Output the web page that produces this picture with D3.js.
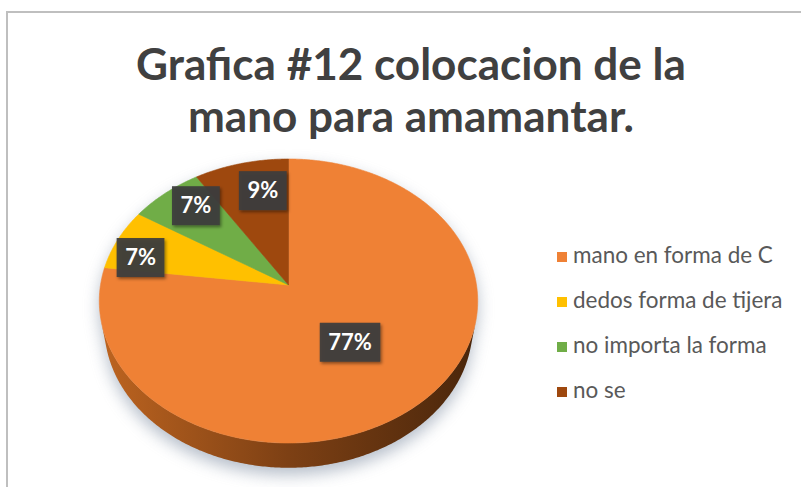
<!DOCTYPE html>
<html>
<head>
<meta charset="utf-8">
<script src="https://cdn.jsdelivr.net/npm/d3@7"></script>
<style>
  body { margin: 0; background: #fff; }
  svg { display: block; }
</style>
</head>
<body>
<svg id="chart" width="801" height="487"></svg>
<script>
// ---- data ----
const categories = ["mano en forma de C", "dedos forma de tijera", "no importa la forma", "no se"];
const percents = [77, 7, 7, 9];
const titleLines = ["Grafica #12 colocacion de la", "mano para amamantar."];
const sliceColors = ["#EF8135", "#FFC000", "#70AD47", "#9E480E"];

// ---- layout ----
const W = 801, H = 487;
const svg = d3.select("#chart");
const defs = svg.append("defs");

// simple perspective camera looking down on a unit-radius disc
const cam = { cx: 288.5, cy: 285, D: 5.91, f: 1111, sinA: 0.7458, thick: 0.215 };
cam.cosA = Math.sqrt(1 - cam.sinA * cam.sinA);

function project(theta, r, z) {
  const X = r * Math.sin(theta), Y = r * Math.cos(theta);
  const depth = cam.D + Y * cam.cosA - z * cam.sinA;
  return [cam.cx + X * cam.f / depth, cam.cy - (Y * cam.sinA + z * cam.cosA) * cam.f / depth];
}
function rim(a0, a1, z) {
  const n = Math.max(2, Math.ceil(Math.abs(a1 - a0) / 0.01));
  return d3.range(n + 1).map(i => project(a0 + (a1 - a0) * i / n, 1, z));
}
const line = d3.line();

// chart frame
svg.append("rect").attr("width", W).attr("height", H).attr("fill", "#fff");
svg.append("path")
  .attr("d", `M7,${H} L7,12 L${W},12`)
  .attr("fill", "none").attr("stroke", "#bfbfbf").attr("stroke-width", 2);

// title
const title = svg.append("g").attr("fill", "#404040")
  .attr("font-family", "Lato, 'Open Sans', sans-serif").attr("font-weight", 700)
  .attr("text-anchor", "middle");
const titleSel = title.selectAll("text").data(titleLines).join("text")
  .attr("x", 411).attr("y", (d, i) => 80 + i * 52)
  .attr("font-size", 40).text(d => d);
{
  const w = titleSel.nodes()[0].getComputedTextLength();
  titleSel.attr("font-size", 40 * 550 / w);
}

// pie angles
const pie = d3.pie().sort(null).value(d => d);
const arcs = pie(percents);

// silhouette angles of the visible side wall
const thS = Math.acos(-1 / (cam.D * cam.cosA));
const sidePts = rim(thS, 2 * Math.PI - thS, 0).concat(rim(2 * Math.PI - thS, thS, -cam.thick));
const topPts = rim(0, 2 * Math.PI, 0);

// soft shadow under the disc
const sh = defs.append("filter").attr("id", "shadow")
  .attr("x", "-30%").attr("y", "-30%").attr("width", "160%").attr("height", "160%");
sh.append("feGaussianBlur").attr("stdDeviation", 8);
const shadow = svg.append("g").attr("filter", "url(#shadow)").attr("opacity", 0.6)
  .attr("transform", "translate(0,7)");
shadow.append("path").attr("d", line(sidePts) + "Z").attr("fill", "#8593a6");
shadow.append("path").attr("d", line(topPts) + "Z").attr("fill", "#8593a6");

// side wall
const sideGrad = defs.append("linearGradient").attr("id", "sideGrad")
  .attr("gradientUnits", "userSpaceOnUse")
  .attr("x1", project(3 * Math.PI / 2, 1, 0)[0]).attr("x2", project(Math.PI / 2, 1, 0)[0])
  .attr("y1", 0).attr("y2", 0);
sideGrad.append("stop").attr("offset", 0).attr("stop-color", "#bd6420");
sideGrad.append("stop").attr("offset", 0.5).attr("stop-color", "#7d4014");
sideGrad.append("stop").attr("offset", 1).attr("stop-color", "#4a260b");
svg.append("path").attr("d", line(sidePts) + "Z").attr("fill", "url(#sideGrad)");

// top face slices
const center = project(0, 0, 0);
svg.append("g").selectAll("path").data(arcs).join("path")
  .attr("d", d => line([center].concat(rim(d.startAngle, d.endAngle, 0))) + "Z")
  .attr("fill", (d, i) => sliceColors[i])
  .attr("stroke", (d, i) => sliceColors[i]).attr("stroke-width", 0.6);

// data labels
const lf = defs.append("filter").attr("id", "lblShadow")
  .attr("x", "-30%").attr("y", "-30%").attr("width", "160%").attr("height", "160%");
lf.append("feDropShadow").attr("dx", 1.5).attr("dy", 2).attr("stdDeviation", 1.8)
  .attr("flood-color", "#000").attr("flood-opacity", 0.45);
const labelR = d => (d.value > 50 ? 0.49 : 0.78);
const labelNudge = [[-2, 3], [-14, 8], [5, -7], [12, 2]];
const labels = svg.append("g").selectAll("g").data(arcs).join("g")
  .attr("transform", (d, i) => {
    const p = project((d.startAngle + d.endAngle) / 2, labelR(d), 0);
    return `translate(${p[0] + labelNudge[i][0]},${p[1] + labelNudge[i][1]})`;
  });
labels.append("text")
  .attr("text-anchor", "middle").attr("y", 8)
  .attr("font-family", "Lato, 'Open Sans', sans-serif").attr("font-weight", 700)
  .attr("font-size", 22).attr("fill", "#fff")
  .text(d => d.value + "%");
labels.each(function () {
  const g = d3.select(this);
  const w = g.select("text").node().getComputedTextLength() + 17;
  g.insert("rect", "text").attr("x", -w / 2).attr("y", -19).attr("width", w).attr("height", 39)
    .attr("fill", "#3c3c3c").attr("fill-opacity", 0.93).attr("filter", "url(#lblShadow)");
});

// legend
const rowY = d3.scalePoint().domain(categories).range([257, 392]);
const legend = svg.append("g").attr("font-family", "Lato, 'Open Sans', sans-serif");
const rows = legend.selectAll("g").data(categories).join("g")
  .attr("transform", d => `translate(557,${rowY(d)})`);
rows.append("rect").attr("x", 0).attr("y", -5).attr("width", 10).attr("height", 10)
  .attr("fill", (d, i) => sliceColors[i]);
const legText = rows.append("text").attr("x", 16).attr("y", 6)
  .attr("font-size", 19).attr("fill", "#595959").text(d => d);
{
  const w = legText.nodes()[0].getComputedTextLength();
  legText.attr("font-size", 19 * 200 / w);
}
</script>
</body>
</html>
